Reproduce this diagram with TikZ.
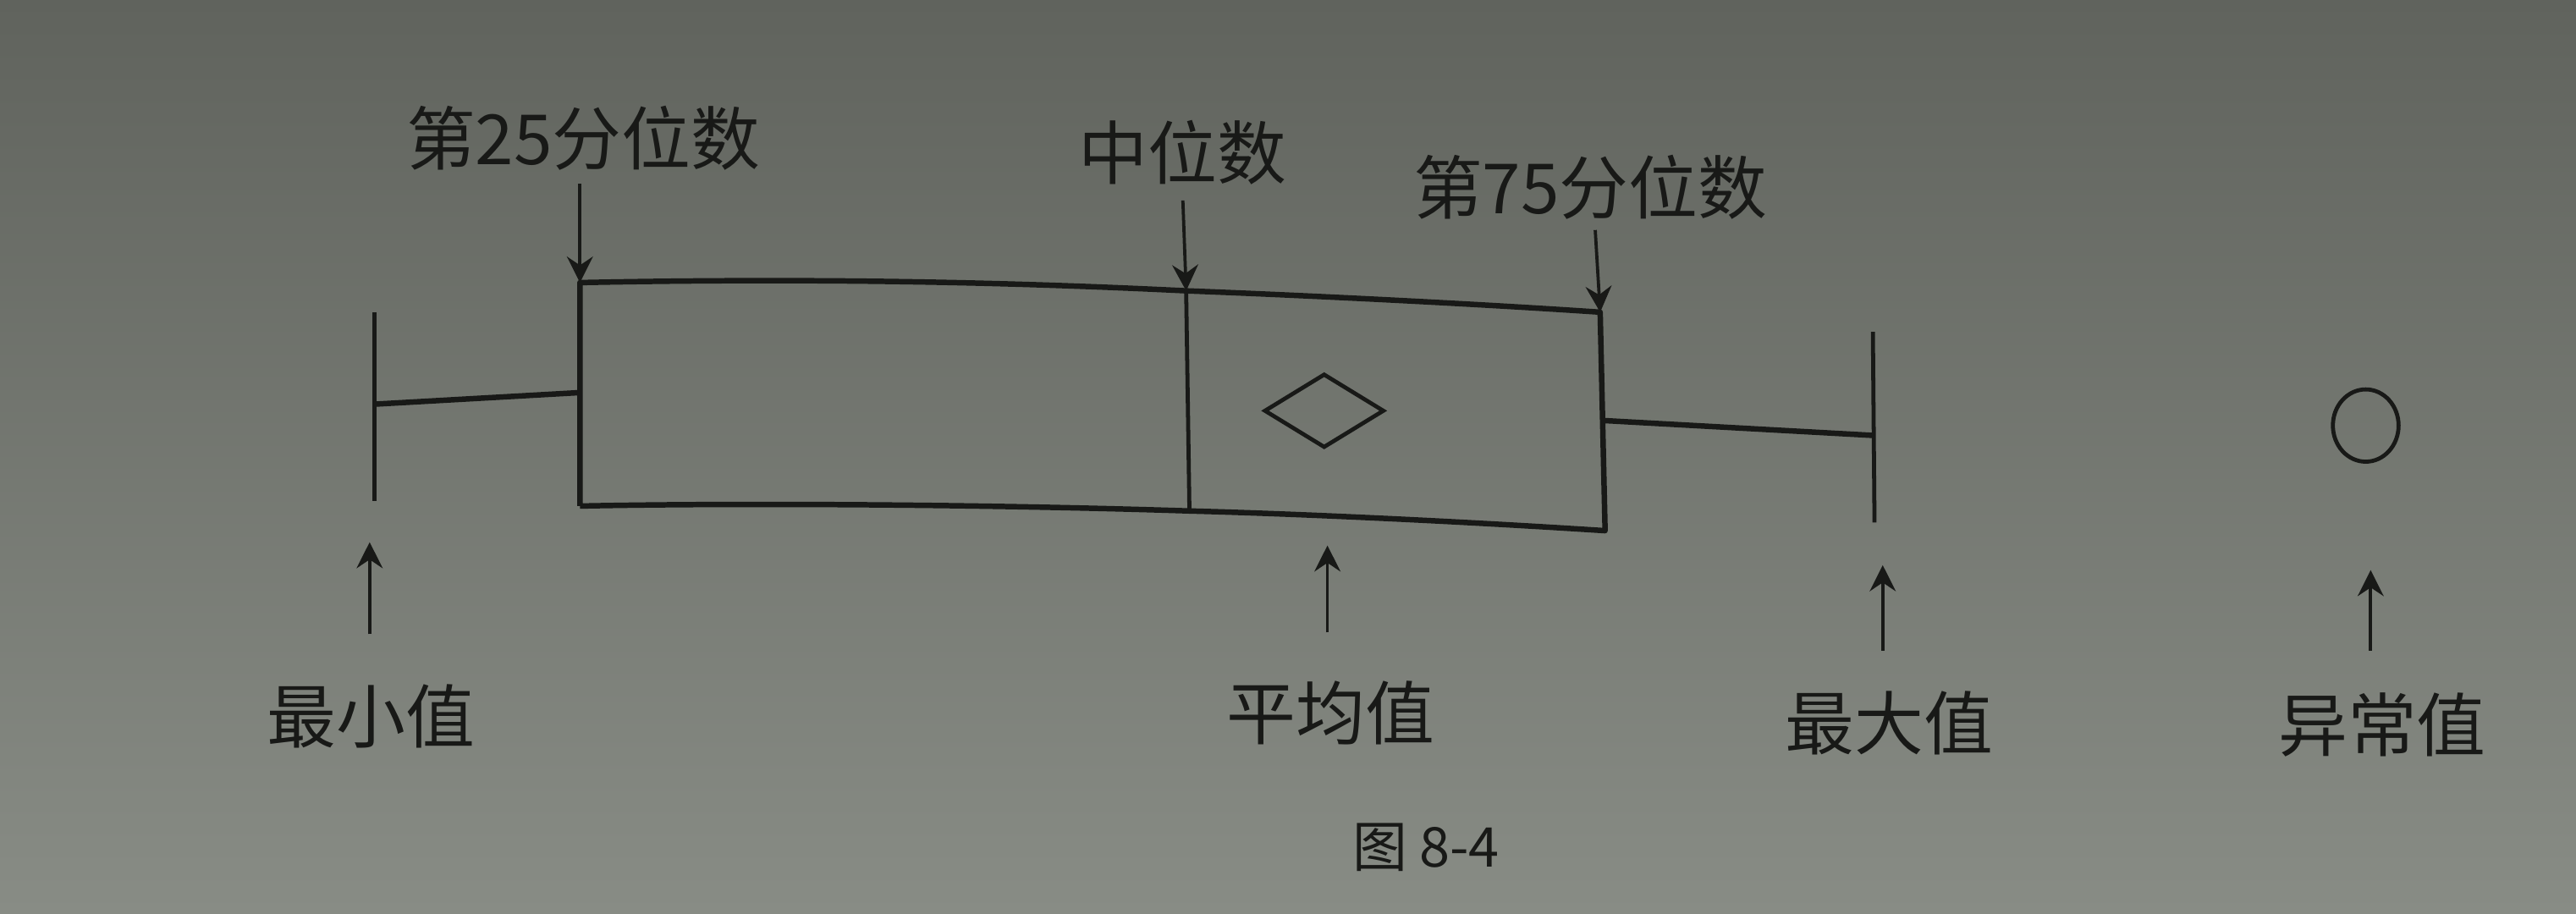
\documentclass[tikz,border=0pt]{standalone}
\usepackage{fontspec}
\newfontfamily\cjk{Noto Sans CJK SC}
\usetikzlibrary{arrows.meta}
\definecolor{bgtop}{RGB}{96,99,93}
\definecolor{bgbot}{RGB}{136,140,133}
\definecolor{ink}{RGB}{24,25,23}
\begin{document}
\begin{tikzpicture}[x=0.02cm,y=-0.02cm,
  boxline/.style={draw=ink,line width=1.9pt,line join=round},
  thinline/.style={draw=ink,line width=1.4pt},
  arr/.style={draw=ink,line width=1.1pt,-{Stealth[length=9pt,width=9pt,inset=3pt]}},
  lab/.style={text=ink,font=\cjk\fontsize{24}{28}\selectfont,inner sep=0pt},
  captext/.style={text=ink,font=\cjk\fontsize{19}{23}\selectfont,inner sep=0pt}]
\shade[top color=bgtop,bottom color=bgbot] (0,0) rectangle (1568,556);
\useasboundingbox (0,0) rectangle (1568,556);
% key coordinates
\coordinate (q1t) at (353,172);
\coordinate (q1b) at (353,308);
\coordinate (mdt) at (722,177);
\coordinate (mdb) at (724,311);
\coordinate (q3t) at (974,190);
\coordinate (q3b) at (977,323);
\coordinate (mint) at (228,190);
\coordinate (minb) at (228,305);
\coordinate (minw) at (228,246);
\coordinate (q1w) at (352,239);
\coordinate (q3w) at (977,256);
\coordinate (maxw) at (1140,265);
\coordinate (maxt) at (1140,202);
\coordinate (maxb) at (1141,318);
% box
\draw[boxline] (q1b) -- (q1t) .. controls (500,169) and (620,172) .. (mdt)
  .. controls (800,180) and (900,185) .. (q3t) -- (q3b)
  .. controls (900,318) and (800,313) .. (mdb)
  .. controls (600,307) and (450,306) .. (q1b);
\draw[thinline] (mdt) -- (mdb);
% whiskers
\draw[thinline] (mint) -- (minb);
\draw[boxline] (minw) -- (q1w);
\draw[boxline] (q3w) -- (maxw);
\draw[thinline] (maxt) -- (maxb);
% mean diamond and outlier
\path (806,228) coordinate (dtop) (842,250) coordinate (dright) (806,272) coordinate (dbot) (770,250) coordinate (dleft);
\draw[draw=ink,line width=1.4pt,line join=miter] (dtop) -- (dright) -- (dbot) -- (dleft) -- cycle;
\coordinate (outl) at (1440,259);
\draw[draw=ink,line width=1.4pt] (outl) ellipse [x radius=20,y radius=22];
% top labels
\node[lab] (l25) at (355,84) {第25分位数};
\node[lab] (lmed) at (720,93) {中位数};
\node[lab] (l75) at (968,114) {第75分位数};
\coordinate (a25) at (353,112);
\coordinate (amed) at (720,122);
\coordinate (a75) at (971,140);
\draw[arr] (a25) -- (q1t);
\draw[arr] (amed) -- (mdt);
\draw[arr] (a75) -- (q3t);
% bottom labels
\node[lab] (lmin) at (226,436) {最小值};
\node[lab] (lmean) at (810,434) {平均值};
\node[lab] (lmax) at (1150,440) {最大值};
\node[lab] (lout) at (1450,441) {异常值};
\coordinate (bmin) at (225,386);  \coordinate (tmin) at (225,330);
\coordinate (bmean) at (808,385); \coordinate (tmean) at (808,332);
\coordinate (bmax) at (1146,396); \coordinate (tmax) at (1146,344);
\coordinate (bout) at (1443,396); \coordinate (tout) at (1443,347);
\draw[arr] (bmin) -- (tmin);
\draw[arr] (bmean) -- (tmean);
\draw[arr] (bmax) -- (tmax);
\draw[arr] (bout) -- (tout);
% caption
\node[captext] (caption) at (868,516) {图 8-4};
\end{tikzpicture}
\end{document}
